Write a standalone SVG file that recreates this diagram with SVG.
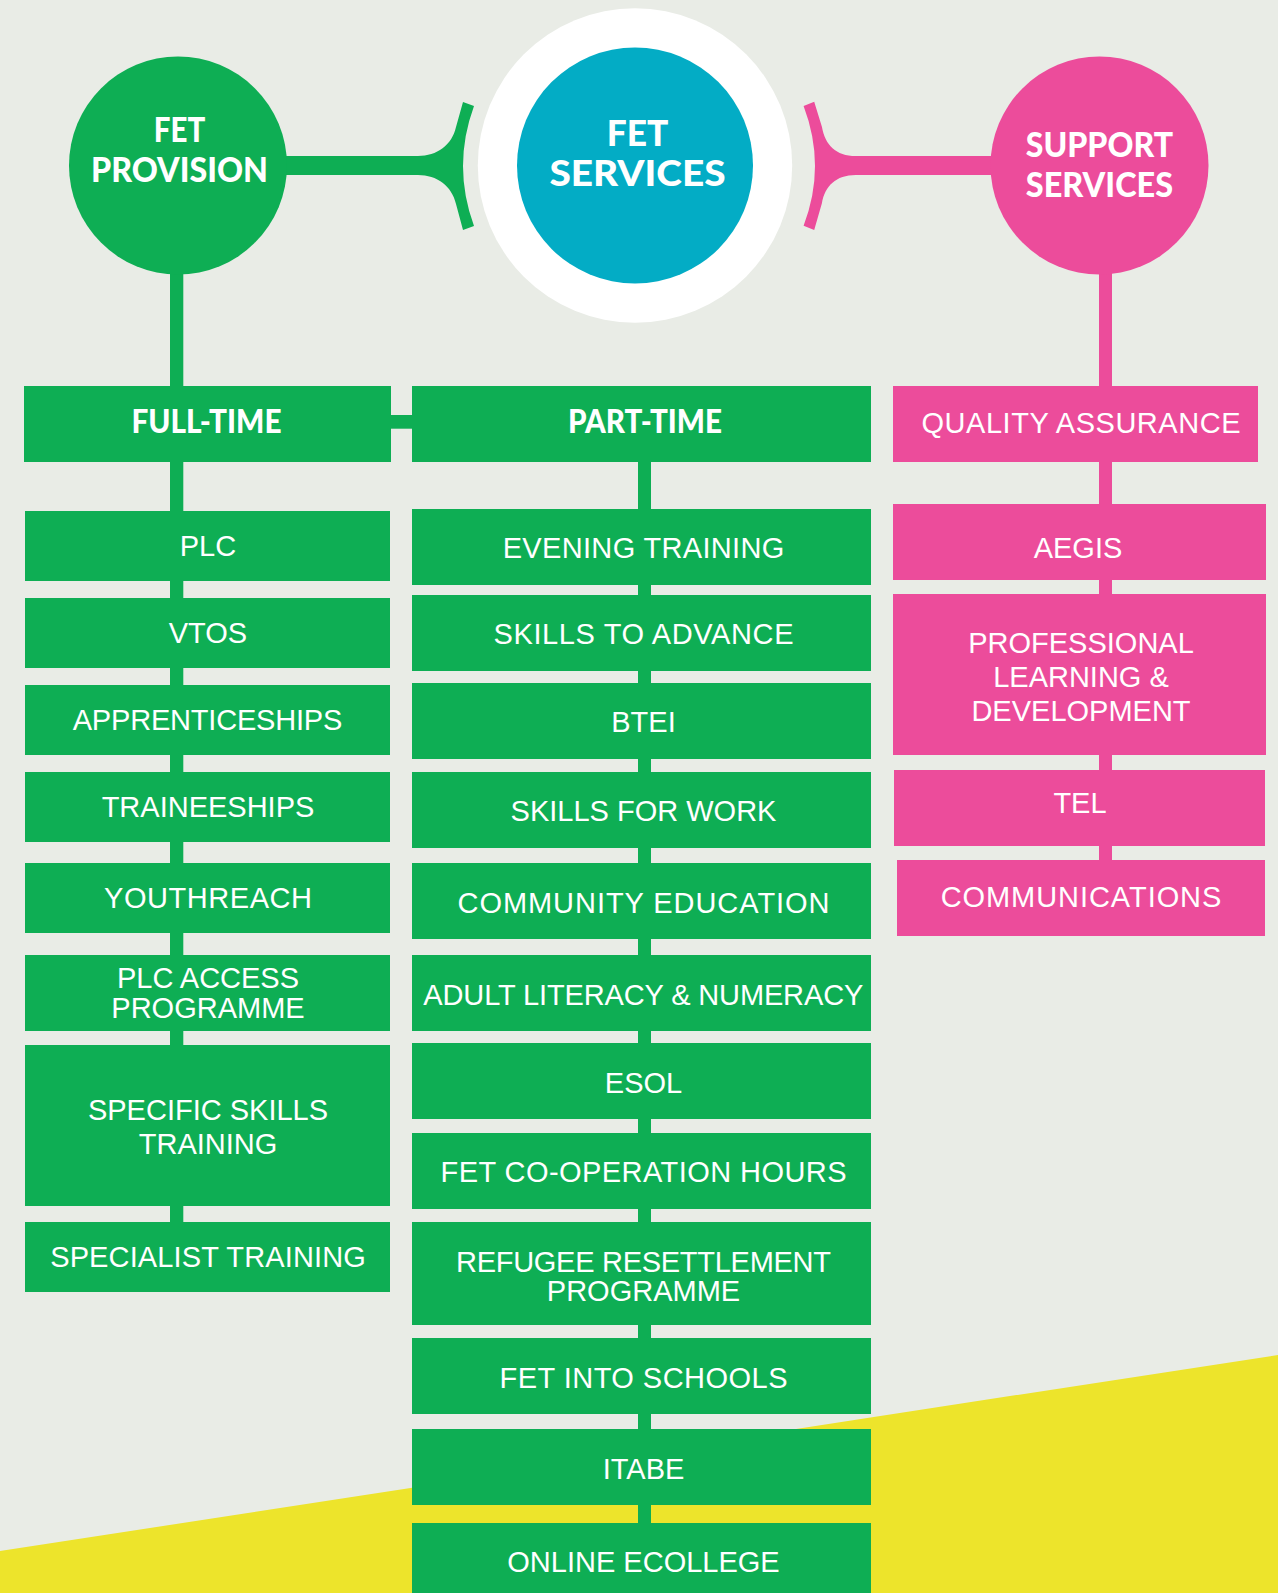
<svg xmlns="http://www.w3.org/2000/svg" width="1278" height="1593" viewBox="0 0 1278 1593">
<style>
.g{fill:#0EAE54}.p{fill:#EC4C9B}
.t{font-family:"Liberation Sans",Arial,sans-serif;font-size:29px;fill:#FFFFFF;text-anchor:middle}
.h{font-family:Lato,"Liberation Sans",Arial,sans-serif;font-weight:900;fill:#FFFFFF;text-anchor:middle}
</style>
<rect x="0" y="0" width="1278" height="1593" fill="#E9ECE6"/>
<polygon points="0,1551 1278,1355 1278,1593 0,1593" fill="#EDE42B"/>
<g id="connectors">
<path class="g" d="M280,156 L418,156 C437,156 452,145 456,127 L463,102 L474,106 Q452,166 474,226 L463,230 L456,204 C452,186 437,175 418,175 L280,175 Z"/>
<path class="p" d="M1000,156 L855.7,156 C836,156 825,145 821.9,126.7 L814.2,101.7 L803.6,106 Q826.4,166 803.6,225.7 L814.2,230 L821.9,203.3 C825,186 836,175 855.7,175 L1000,175 Z"/>
<rect class="g" x="170" y="265" width="13.3" height="965"/>
<rect class="g" x="388" y="415" width="26" height="13.7"/>
<rect class="g" x="638" y="455" width="13" height="1080"/>
<rect class="p" x="1099" y="265" width="13" height="600"/>
</g>
<g id="fet-services">
<circle cx="635" cy="165.5" r="157.2" fill="#FFFFFF"/>
<circle cx="635" cy="165.5" r="118" fill="#03ACC5"/>
<text class="h" x="637.5" y="146" font-size="35.5" textLength="61.6" lengthAdjust="spacingAndGlyphs">FET</text>
<text class="h" x="637.5" y="186" font-size="35.5" textLength="176" lengthAdjust="spacingAndGlyphs">SERVICES</text>
</g>
<g id="fet-provision">
<circle class="g" cx="178" cy="165.5" r="109"/>
<text class="h" x="179.5" y="142" font-size="35" textLength="51.4" lengthAdjust="spacingAndGlyphs">FET</text>
<text class="h" x="179.5" y="182" font-size="35" textLength="177" lengthAdjust="spacingAndGlyphs">PROVISION</text>
</g>
<g id="support-services">
<circle class="p" cx="1099.5" cy="165.5" r="109"/>
<text class="h" x="1099.4" y="157.3" font-size="35" textLength="147.3" lengthAdjust="spacingAndGlyphs">SUPPORT</text>
<text class="h" x="1099.4" y="197" font-size="35" textLength="147.3" lengthAdjust="spacingAndGlyphs">SERVICES</text>
</g>
<g id="full-time"><rect class="g" x="24" y="386" width="367" height="76"/><text class="h" x="206.5" y="433.3" font-size="32.5" textLength="150" lengthAdjust="spacingAndGlyphs">FULL-TIME</text></g>
<g id="plc"><rect class="g" x="25" y="511" width="365" height="70"/><text class="t" x="208" y="556">PLC</text></g>
<g id="vtos"><rect class="g" x="25" y="598" width="365" height="70"/><text class="t" x="208" y="643.3">VTOS</text></g>
<g id="apprenticeships"><rect class="g" x="25" y="685" width="365" height="70"/><text class="t" x="207.5" y="730" textLength="269.6">APPRENTICESHIPS</text></g>
<g id="traineeships"><rect class="g" x="25" y="772" width="365" height="70"/><text class="t" x="208" y="817">TRAINEESHIPS</text></g>
<g id="youthreach"><rect class="g" x="25" y="863" width="365" height="70"/><text class="t" x="208" y="907.7" textLength="208">YOUTHREACH</text></g>
<g id="plc-access"><rect class="g" x="25" y="955" width="365" height="76"/><text class="t" x="208" y="988.3">PLC ACCESS</text><text class="t" x="208" y="1017.7">PROGRAMME</text></g>
<g id="specific-skills"><rect class="g" x="25" y="1045" width="365" height="161"/><text class="t" x="208" y="1120">SPECIFIC SKILLS</text><text class="t" x="208" y="1154">TRAINING</text></g>
<g id="specialist"><rect class="g" x="25" y="1222" width="365" height="70"/><text class="t" x="208" y="1267" textLength="315.7">SPECIALIST TRAINING</text></g>
<g id="part-time"><rect class="g" x="412" y="386" width="459" height="76"/><text class="h" x="645" y="433.3" font-size="32.5" textLength="154" lengthAdjust="spacingAndGlyphs">PART-TIME</text></g>
<g id="evening"><rect class="g" x="412" y="509" width="459" height="76"/><text class="t" x="643.5" y="558.3" textLength="281.6">EVENING TRAINING</text></g>
<g id="skills-advance"><rect class="g" x="412" y="595" width="459" height="76"/><text class="t" x="643.5" y="644.3" textLength="300">SKILLS TO ADVANCE</text></g>
<g id="btei"><rect class="g" x="412" y="683" width="459" height="76"/><text class="t" x="643.5" y="732.3">BTEI</text></g>
<g id="skills-work"><rect class="g" x="412" y="772" width="459" height="76"/><text class="t" x="643.5" y="821.3">SKILLS FOR WORK</text></g>
<g id="community"><rect class="g" x="412" y="863" width="459" height="76"/><text class="t" x="643.5" y="913.3" textLength="372">COMMUNITY EDUCATION</text></g>
<g id="adult-literacy"><rect class="g" x="412" y="955" width="459" height="76"/><text class="t" x="643.3" y="1005" textLength="440">ADULT LITERACY &amp; NUMERACY</text></g>
<g id="esol"><rect class="g" x="412" y="1043" width="459" height="76"/><text class="t" x="643.5" y="1093.3">ESOL</text></g>
<g id="cooperation"><rect class="g" x="412" y="1133" width="459" height="76"/><text class="t" x="643.5" y="1182.3" textLength="406">FET CO-OPERATION HOURS</text></g>
<g id="refugee"><rect class="g" x="412" y="1222" width="459" height="103"/><text class="t" x="643.5" y="1271.7" textLength="375">REFUGEE RESETTLEMENT</text><text class="t" x="643.5" y="1301">PROGRAMME</text></g>
<g id="fet-schools"><rect class="g" x="412" y="1338" width="459" height="76"/><text class="t" x="643.5" y="1387.7" textLength="288">FET INTO SCHOOLS</text></g>
<g id="itabe"><rect class="g" x="412" y="1429" width="459" height="76"/><text class="t" x="643.5" y="1479.3">ITABE</text></g>
<g id="ecollege"><rect class="g" x="412" y="1523" width="459" height="80"/><text class="t" x="643.5" y="1572.3">ONLINE ECOLLEGE</text></g>
<g id="quality"><rect class="p" x="893" y="386" width="365" height="76"/><text class="t" x="1081" y="433.3" textLength="319">QUALITY ASSURANCE</text></g>
<g id="aegis"><rect class="p" x="893" y="504" width="373" height="76"/><text class="t" x="1078" y="558.3">AEGIS</text></g>
<g id="professional"><rect class="p" x="893" y="594" width="373" height="161"/><text class="t" x="1081" y="653.3">PROFESSIONAL</text><text class="t" x="1081" y="687.3">LEARNING &amp;</text><text class="t" x="1081" y="721">DEVELOPMENT</text></g>
<g id="tel"><rect class="p" x="894" y="770" width="371" height="76"/><text class="t" x="1080" y="813">TEL</text></g>
<g id="communications"><rect class="p" x="897" y="860" width="368" height="76"/><text class="t" x="1081" y="907.3" textLength="280.7">COMMUNICATIONS</text></g>
</svg>
